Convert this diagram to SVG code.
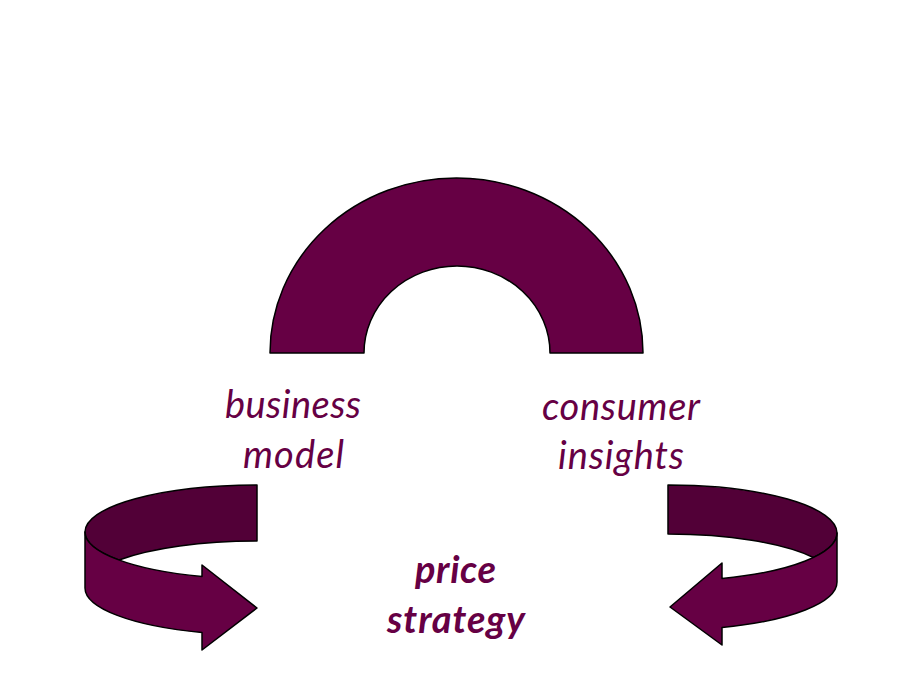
<svg xmlns="http://www.w3.org/2000/svg" width="921" height="696" viewBox="0 0 921 696">
<style>
.shape{fill:#660044;stroke:#000;stroke-width:1.5;stroke-linejoin:round}
.back{fill:#520037;stroke:#000;stroke-width:1.5;stroke-linejoin:round}
.lbl{font-family:Lato,"Open Sans","Liberation Sans",sans-serif;font-style:italic;font-size:38px;fill:#660044;text-anchor:middle}
.bold{font-weight:bold}
</style>
<rect width="921" height="696" fill="#fff"/>
<g id="arch">
<path class="shape" d="M270,353 A186.5,175 0 0 1 643,353 L550,353 A93,87 0 0 0 364,353 Z"/>
</g>
<g id="left-arrow">
<path class="back" d="M257,485 A172,47 0 0 0 85,532 A172,47 0 0 0 119,560 A172,47 0 0 1 257,541 Z"/>
<path class="shape" d="M85,532 A172,47 0 0 0 202,576.5 L202,565 L257,608 L202,650 L202,632.5 A172,47 0 0 1 85,588 Z"/>
</g>
<g id="right-arrow">
<path class="back" d="M668,485 A169,48 0 0 1 837,533 A169,48 0 0 1 813.4,557.5 A169,48 0 0 0 668,534 Z"/>
<path class="shape" d="M837,533 A169,48 0 0 1 722,578.5 L722,563 L670,607 L722,645 L722,627.5 A169,48 0 0 0 837,582 Z"/>
</g>
<g id="business-model">
<text class="lbl" x="293" y="418" textLength="136">business</text>
<text class="lbl" x="293.5" y="468" textLength="101">model</text>
</g>
<g id="consumer-insights">
<text class="lbl" x="621" y="420" textLength="158">consumer</text>
<text class="lbl" x="621" y="469" textLength="126">insights</text>
</g>
<g id="price-strategy">
<text class="lbl bold" x="455.5" y="583" textLength="81">price</text>
<text class="lbl bold" x="456" y="633" textLength="138">strategy</text>
</g>
<g id="connectors"></g>
</svg>
